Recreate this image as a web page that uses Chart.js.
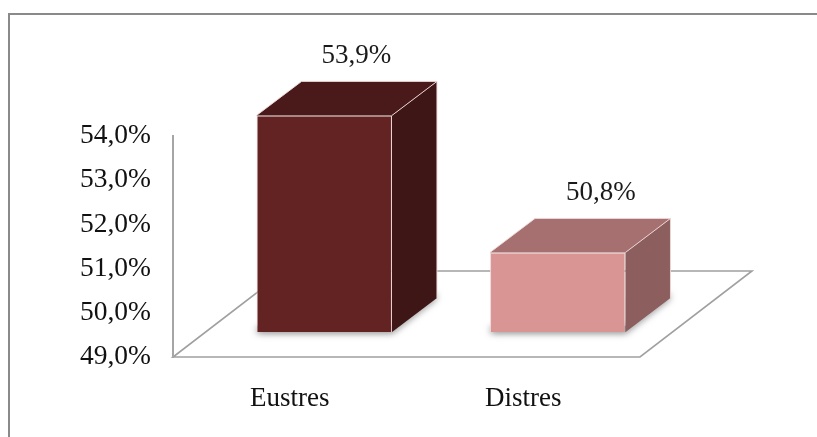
<!DOCTYPE html>
<html>
<head>
<meta charset="utf-8">
<script src="https://cdn.jsdelivr.net/npm/chart.js@4/dist/chart.umd.min.js"></script>
<style>
  html, body { margin: 0; padding: 0; background: #ffffff; }
  canvas { display: block; }
</style>
</head>
<body>
<canvas id="c" width="817" height="437"></canvas>
<script>
// ---- data ----
const categories = ['Eustres', 'Distres'];
const values = [53.9, 50.8];
const yTickValues = [49, 50, 51, 52, 53, 54];
const yTickLabels = ['49,0%', '50,0%', '51,0%', '52,0%', '53,0%', '54,0%'];
const valueLabels = ['53,9%', '50,8%'];

// ---- styles ----
const frontColors = ['#632323', '#D99594'];
const topColors = ['#4A1A1A', '#A5706F'];
const sideColors = ['#3F1616', '#8C5E5D'];
const SERIF = '"Liberation Serif", "Times New Roman", serif';

// 3D geometry (pixels)
const FRONT_SHIFT = { x: 34.5, y: -25 };  // bars sit a bit inside the floor
const BAR_DEPTH = { x: 45, y: -34 };
const FLOOR_DEPTH = { x: 112, y: -86 };
const LABEL_DX = [32, 43];
const LABEL_DY = -60;

const threeD = {
  id: 'threeD',
  beforeDraw(chart) {
    const ctx = chart.ctx;
    const a = chart.chartArea;
    ctx.save();
    // outer frame (top & left visible)
    ctx.strokeStyle = '#8a8a8a';
    ctx.lineWidth = 2;
    ctx.beginPath();
    ctx.moveTo(9, chart.height);
    ctx.lineTo(9, 14);
    ctx.lineTo(chart.width, 14);
    ctx.stroke();
    // floor
    ctx.fillStyle = '#ffffff';
    ctx.strokeStyle = '#a0a0a0';
    ctx.lineWidth = 1.6;
    ctx.beginPath();
    ctx.moveTo(a.left, a.bottom);
    ctx.lineTo(a.right, a.bottom);
    ctx.lineTo(a.right + FLOOR_DEPTH.x, a.bottom + FLOOR_DEPTH.y);
    ctx.lineTo(a.left + FLOOR_DEPTH.x, a.bottom + FLOOR_DEPTH.y);
    ctx.closePath();
    ctx.fill();
    ctx.stroke();
    ctx.restore();
  },
  beforeDatasetsDraw(chart) {
    const ctx = chart.ctx;
    ctx.save();
    ctx.translate(FRONT_SHIFT.x, FRONT_SHIFT.y);
    // soft shadow around the bar feet
    const meta = chart.getDatasetMeta(0);
    meta.data.forEach((el) => {
      const p = el.getProps(['x', 'y', 'base', 'width'], true);
      const x0 = p.x - p.width / 2, x1 = p.x + p.width / 2;
      ctx.save();
      ctx.shadowColor = 'rgba(0,0,0,0.55)';
      ctx.shadowBlur = 7;
      ctx.shadowOffsetX = 0;
      ctx.shadowOffsetY = 1;
      ctx.fillStyle = '#888';
      ctx.beginPath();
      ctx.moveTo(x0 + 1, p.base - 6);
      ctx.lineTo(x1, p.base - 6);
      ctx.lineTo(x1 + BAR_DEPTH.x - 1, p.base + BAR_DEPTH.y - 6);
      ctx.lineTo(x1 + BAR_DEPTH.x - 1, p.base + BAR_DEPTH.y);
      ctx.lineTo(x1, p.base);
      ctx.lineTo(x0 + 1, p.base);
      ctx.closePath();
      ctx.fill();
      ctx.restore();
    });
  },
  afterDatasetsDraw(chart) {
    const ctx = chart.ctx;
    const meta = chart.getDatasetMeta(0);
    meta.data.forEach((el, i) => {
      const p = el.getProps(['x', 'y', 'base', 'width'], true);
      const x0 = p.x - p.width / 2, x1 = p.x + p.width / 2;
      const dx = BAR_DEPTH.x, dy = BAR_DEPTH.y;
      ctx.lineWidth = 1;
      ctx.strokeStyle = 'rgba(236,214,214,0.95)';
      ctx.lineJoin = 'round';
      // top face
      ctx.fillStyle = topColors[i];
      ctx.beginPath();
      ctx.moveTo(x0, p.y);
      ctx.lineTo(x1, p.y);
      ctx.lineTo(x1 + dx, p.y + dy);
      ctx.lineTo(x0 + dx, p.y + dy);
      ctx.closePath();
      ctx.fill();
      // side face
      ctx.fillStyle = sideColors[i];
      ctx.beginPath();
      ctx.moveTo(x1, p.y);
      ctx.lineTo(x1 + dx, p.y + dy);
      ctx.lineTo(x1 + dx, p.base + dy);
      ctx.lineTo(x1, p.base);
      ctx.closePath();
      ctx.fill();
      // light edges
      ctx.beginPath();
      ctx.moveTo(x0, p.y);
      ctx.lineTo(x0 + dx, p.y + dy);
      ctx.lineTo(x1 + dx, p.y + dy);
      ctx.lineTo(x1, p.y);
      ctx.moveTo(x1 + dx, p.y + dy);
      ctx.lineTo(x1 + dx, p.base + dy);
      ctx.stroke();
    });
    ctx.restore();
    // value labels
    ctx.save();
    ctx.fillStyle = '#1a1a1a';
    ctx.font = '27px ' + SERIF;
    ctx.textAlign = 'center';
    ctx.textBaseline = 'middle';
    meta.data.forEach((el, i) => {
      const p = el.getProps(['x', 'y'], true);
      ctx.fillText(valueLabels[i], p.x + FRONT_SHIFT.x + LABEL_DX[i], p.y + FRONT_SHIFT.y + LABEL_DY);
    });
    ctx.restore();
  }
};

new Chart(document.getElementById('c'), {
  type: 'bar',
  data: {
    labels: categories,
    datasets: [{
      data: values,
      base: 49,
      backgroundColor: frontColors,
      borderColor: 'rgba(236,214,214,0.95)',
      borderWidth: 1,
      categoryPercentage: 1,
      barPercentage: 0.58,
      clip: false
    }]
  },
  options: {
    responsive: false,
    animation: false,
    devicePixelRatio: 1,
    layout: { padding: { left: 53, right: 177, top: 136, bottom: 20 } },
    plugins: { legend: { display: false }, tooltip: { enabled: false } },
    scales: {
      x: {
        grid: { display: false },
        border: { display: false },
        ticks: { color: '#111', font: { family: SERIF, size: 27 }, padding: 18 },
        afterFit(s) { s.height = 60; }
      },
      y: {
        min: 49,
        max: 54,
        grid: { display: false },
        border: { display: true, color: '#a6a6a6', width: 2 },
        afterBuildTicks(s) { s.ticks = yTickValues.map(v => ({ value: v })); },
        ticks: {
          color: '#111',
          font: { family: SERIF, size: 27.5 },
          padding: 14,
          callback: (v, i) => yTickLabels[i]
        },
        afterFit(s) { s.width = 120; }
      }
    }
  },
  plugins: [threeD]
});
</script>
</body>
</html>
